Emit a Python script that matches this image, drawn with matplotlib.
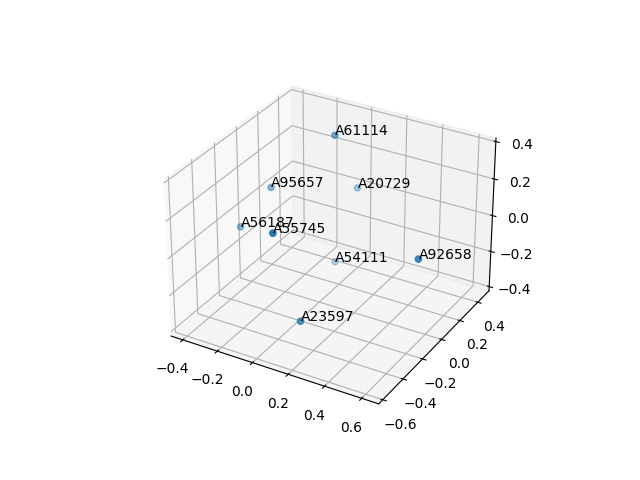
import matplotlib
matplotlib.use("Agg")
import matplotlib.pyplot as plt

labels = ["A61114", "A95657", "A20729", "A56187", "A55745", "A54111", "A92658", "A23597"]
xs = [-0.056, -0.308, -0.037, -0.395, 0.082, -0.083, 0.617, 0.158]
ys = [0.255, 0.055, 0.455, -0.1, -0.565, 0.305, -0.125, -0.45]
zs = [0.365, 0.106, -0.007, -0.063, 0.256, -0.37, 0.058, -0.248]

fig = plt.figure()
ax = fig.add_subplot(projection="3d")
ax.scatter(xs, ys, zs)
for x, y, z, label in zip(xs, ys, zs, labels):
    ax.text(x, y, z, label)
fig.savefig("out.png")
